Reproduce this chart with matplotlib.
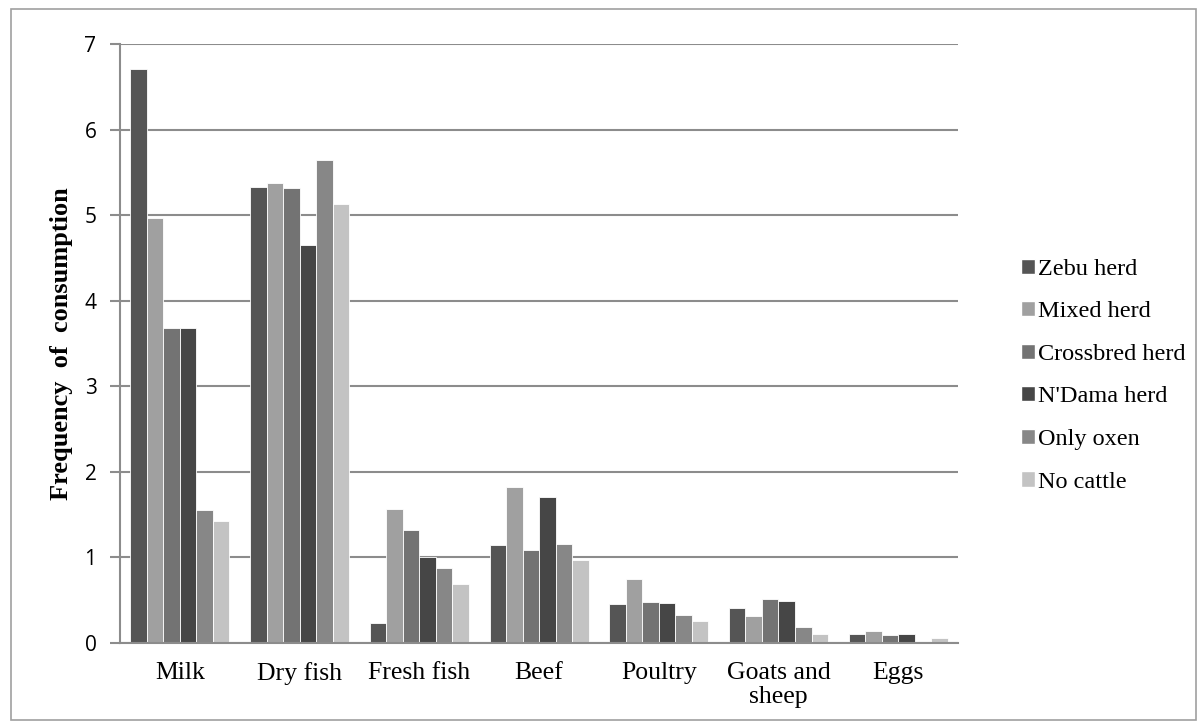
import matplotlib
matplotlib.use("Agg")
from matplotlib import pyplot as plt
from matplotlib.patches import Rectangle, Patch
import numpy as np

categories = ["Milk", "Dry fish", "Fresh fish", "Beef", "Poultry", "Goats and\nsheep", "Eggs"]
series_names = ["Zebu herd", "Mixed herd", "Crossbred herd", "N'Dama herd", "Only oxen", "No cattle"]

zebu = [6.71, 5.33, 0.23, 1.14, 0.46, 0.41, 0.11]
mixed = [4.97, 5.37, 1.57, 1.82, 0.75, 0.32, 0.14]
crossbred = [3.68, 5.32, 1.32, 1.09, 0.48, 0.51, 0.09]
ndama = [3.68, 4.65, 1.00, 1.70, 0.47, 0.49, 0.11]
oxen = [1.55, 5.64, 0.88, 1.16, 0.33, 0.19, 0.00]
no_cattle = [1.43, 5.13, 0.69, 0.97, 0.26, 0.11, 0.06]

colors = ["#555555", "#a0a0a0", "#737373", "#464646", "#878787", "#c3c3c3"]


def main():
	fig = plt.figure(figsize=(12.03, 7.28), dpi=100)
	ax = fig.add_axes([0.0998, 0.1168, 0.6966, 0.8228])

	# outer frame around the whole chart
	fig.patches.append(Rectangle((0.009, 0.011), 0.985, 0.976, transform=fig.transFigure,
		fill=False, edgecolor="#a0a0a0", linewidth=1.2))

	series = [zebu, mixed, crossbred, ndama, oxen, no_cattle]
	x = np.arange(len(categories))
	w = 0.138
	for i, vals in enumerate(series):
		ax.bar(x + (i - 2.5) * w, vals, width=w, color=colors[i], edgecolor="white",
			linewidth=0.6, zorder=3)

	ax.set_xlim(-0.5, len(categories) - 0.5)
	ax.set_ylim(0, 7)
	ax.set_yticks(range(0, 8))
	ax.grid(axis="y", color="#8c8c8c", linewidth=1.5, zorder=0)
	ax.set_axisbelow(True)

	for s in ["top", "right"]:
		ax.spines[s].set_visible(False)
	ax.spines["left"].set_color("#8c8c8c")
	ax.spines["left"].set_linewidth(1.5)
	ax.spines["bottom"].set_color("#8c8c8c")
	ax.spines["bottom"].set_linewidth(1.5)
	ax.spines["bottom"].set_zorder(4)

	ax.tick_params(axis="y", length=7, width=1.5, color="#8c8c8c", pad=10,
		labelsize=15)
	ax.tick_params(axis="x", length=0, pad=14)
	for t in ax.get_yticklabels():
		t.set_fontfamily("Open Sans")
	ax.set_xticks(x)
	ax.set_xticklabels(categories, fontfamily="Liberation Serif", fontsize=18.5,
		linespacing=1.12)

	ax.set_ylabel("Frequency  of  consumption", fontfamily="Liberation Serif",
		fontsize=19, fontweight="bold", labelpad=8)

	handles = [Patch(facecolor=c, edgecolor="white") for c in colors]
	ax.legend(handles, series_names, loc="center left", bbox_to_anchor=(0.8487, 0.484),
		bbox_transform=fig.transFigure, borderaxespad=0, borderpad=0,
		frameon=False, prop={"family": "Liberation Serif", "size": 17.5},
		handlelength=0.58, handleheight=0.58, handletextpad=0.12, labelspacing=0.88)

	fig.savefig("out.png", dpi=100)


if __name__ == "__main__":
	main()
